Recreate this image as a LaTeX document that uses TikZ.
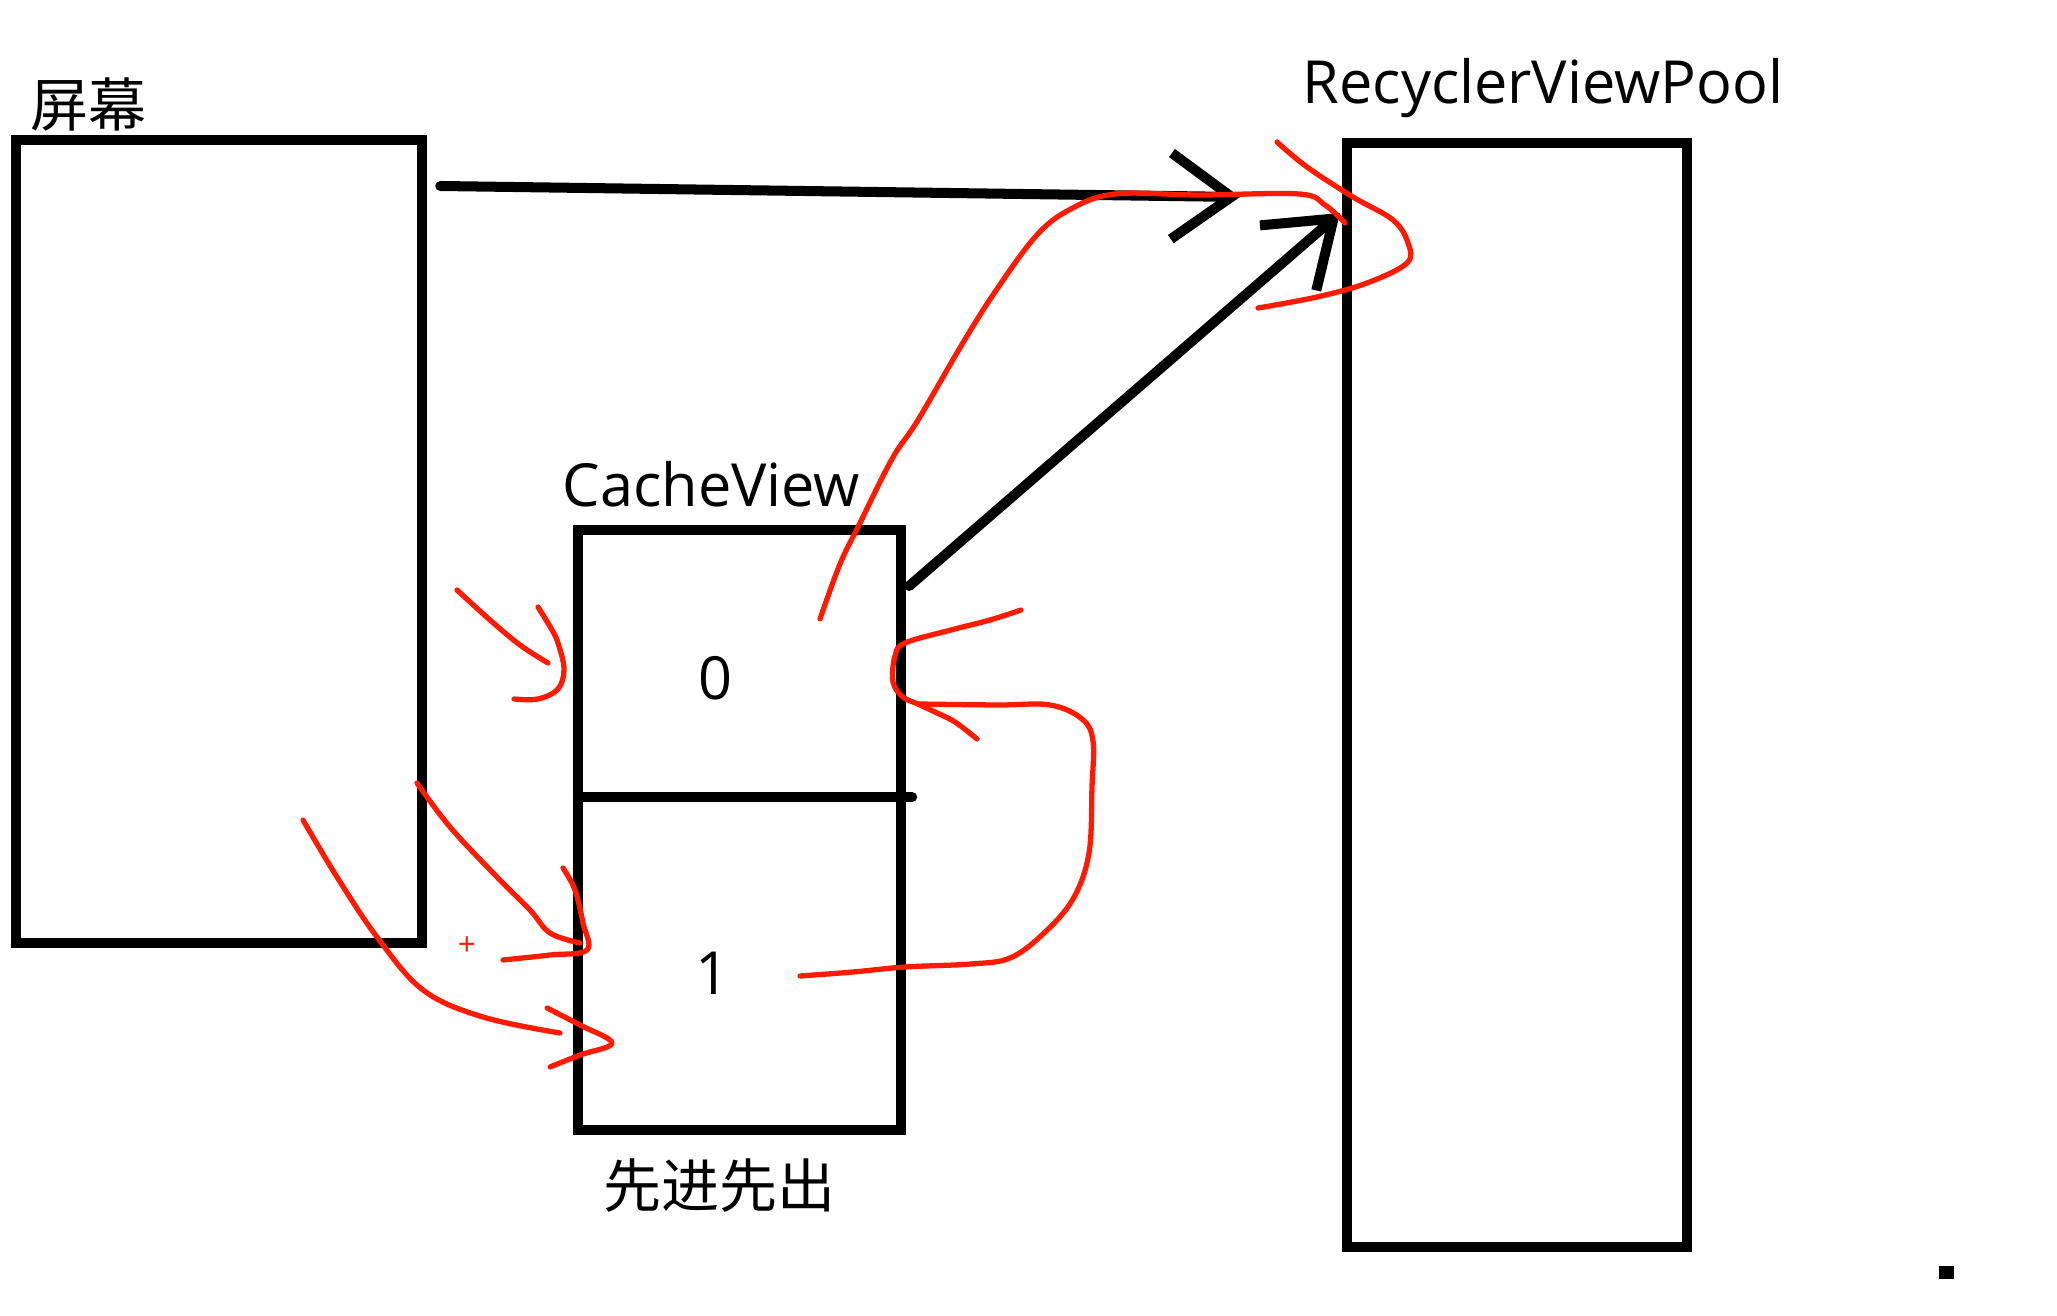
\documentclass[tikz,border=0pt]{standalone}
\usepackage{fontspec}
\setmainfont{Open Sans}
\newfontfamily\cjk{Noto Sans CJK SC}
\usetikzlibrary{arrows.meta, positioning, calc}
\definecolor{penred}{HTML}{FF1A00}

\begin{document}
\begin{tikzpicture}[x=0.01cm, y=-0.01cm,
    box/.style={draw, line width=2.85pt, inner sep=0, outer sep=0, anchor=north west},
    lbl/.style={inner sep=0, anchor=base west, font=\fontsize{16.9}{20}\selectfont},
    num/.style={inner sep=0, font=\fontsize{16.9}{20}\selectfont},
    pen/.style={penred, line width=1.5pt, line cap=round, line join=round},
    link/.style={line width=2.85pt, line cap=round,
                 -{Straight Barb[length=6mm, width=8.6mm]}}]
  \useasboundingbox (0,0) rectangle (2057,1316);

  % boxes
  \node[box, minimum width=4.06cm, minimum height=8.03cm] (screen) at (16,140) {};
  \node[box, minimum width=3.23cm, minimum height=6.00cm] (cache) at (578,530) {};
  \node[box, minimum width=3.40cm, minimum height=11.03cm] (pool) at (1347,143) {};
  \draw[line width=2.85pt, line cap=round]
    ([shift={(0,267)}]cache.north west) -- ([shift={(11,267)}]cache.north east);

  % labels
  \node[lbl, font=\cjk\fontsize{16.5}{20}\selectfont] (screenlabel) at (30,127) {屏幕};
  \node[lbl] (cachelabel) at (562,507) {CacheView};
  \node[lbl] (poollabel) at (1302,104) {RecyclerViewPool};
  \node[lbl, font=\cjk\fontsize{16.5}{20}\selectfont] (fifo) at (603,1207) {先进先出};
  \node[num] (zero) at (715,678) {0};
  \node[num] (one) at (712,973) {1};

  % black arrows
  \draw[link] ([shift={(18,46)}]screen.north east) -- ([shift={(-107,54)}]pool.north west);
  \draw[link] ([shift={(8,56)}]cache.north east) -- ([shift={(-7,70)}]pool.north west);

  % red pen strokes
  \draw[pen] plot[smooth, tension=0.6] coordinates {(820,619) (840,564) (859,525) (892,459)
    (918,420) (964,341) (997,289) (1036,236) (1069,210) (1115,194) (1200,195) (1299,194)
    (1325,205) (1345,223)};
  \draw[pen] plot[smooth, tension=0.6] coordinates {(1277,142) (1307,167) (1353,197)
    (1393,220) (1408,243) (1407,263) (1367,283) (1317,297) (1258,308)};
  \draw[pen] plot[smooth, tension=0.6] coordinates {(457,590) (490,620) (520,645) (548,663)};
  \draw[pen] plot[smooth, tension=0.6] coordinates {(538,607) (552,630) (558,643) (564,669)
    (558,689) (538,699) (514,699)};
  \draw[pen] plot[smooth, tension=0.6] coordinates {(1021,610) (990,620) (951,630) (905,643)
    (895,656) (893,682) (903,697) (918,704) (935,712) (955,722) (977,739)};
  \draw[pen] plot[smooth, tension=0.6] coordinates {(918,704) (997,705) (1050,705) (1082,719)
    (1093,741) (1092,787) (1089,853) (1073,899) (1043,934) (1010,958) (971,964) (905,967)
    (853,972) (800,976)};
  \draw[pen] plot[smooth, tension=0.6] coordinates {(417,783) (450,827) (497,877) (530,910)
    (550,933) (580,943)};
  \draw[pen] plot[smooth, tension=0.6] coordinates {(563,868) (575,890) (583,923) (587,950)
    (550,955) (503,960)};
  \node[penred, inner sep=0, font=\fontsize{9}{10}\selectfont] (plus) at (467,946) {+};
  \draw[pen] plot[smooth, tension=0.6] coordinates {(303,820) (337,877) (377,937) (423,990)
    (483,1017) (560,1033)};
  \draw[pen] plot[smooth, tension=0.6] coordinates {(547,1008) (580,1025) (612,1043)
    (580,1055) (550,1067)};

  % stray dot
  \fill (1939,1266) rectangle (1954,1279);
\end{tikzpicture}
\end{document}
